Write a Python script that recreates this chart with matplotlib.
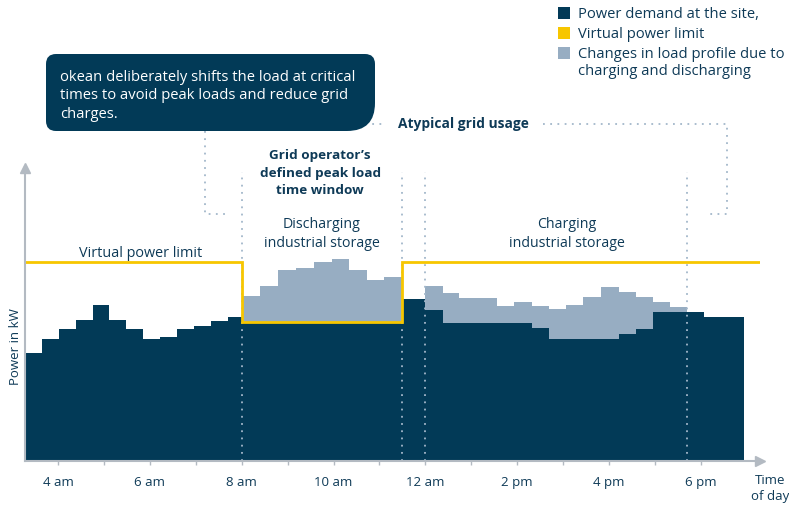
import matplotlib.pyplot as plt
import numpy as np
from matplotlib.path import Path
from matplotlib.patches import PathPatch, Rectangle

plt.rcParams["font.family"] = ["Open Sans", "DejaVu Sans"]

# step edges (hour of day) shared by both load series
edges = [3.28, 3.65, 4.02, 4.39, 4.76, 5.12, 5.48, 5.86, 6.22, 6.59, 6.96, 7.33, 7.70,
         8.0, 8.40, 8.80, 9.19, 9.58, 9.96, 10.34, 10.73, 11.11,
         11.5,
         12.0, 12.39, 12.74, 13.57, 13.94, 14.32, 14.70, 15.07, 15.44, 15.83, 16.21,
         16.58, 16.96, 17.33,
         17.70, 18.07, 18.94]

# power demand at the site (after shifting)
demand = [54, 61, 66, 70.5, 78, 70.5, 66, 61, 62, 66, 67.5, 70, 72,
          69.5, 69.5, 69.5, 69.5, 69.5, 69.5, 69.5, 69.5, 69.5,
          81,
          75.5, 69, 69, 69, 69, 66.5, 61, 61, 61, 61, 63.5, 66, 74.5, 74.5,
          74.5, 72]

# load profile including charging / discharging changes (0 = no change)
changed = [0, 0, 0, 0, 0, 0, 0, 0, 0, 0, 0, 0, 0,
           82.5, 87.5, 95.5, 96.5, 99.5, 101, 95.5, 90.5, 92,
           0,
           87.5, 84, 81.5, 77.5, 79.5, 77.5, 76, 78, 82, 87, 84.5, 82, 79.5, 77,
           0, 0]

# virtual power limit
limit_edges = [3.28, 8.0, 11.5, 19.29]
limit = [99.5, 69.5, 99.5]

# dotted markers (hours)
window_lines = [8.0, 11.5, 12.0, 17.70]

tick_hours = [4, 6, 8, 10, 12, 14, 16, 18]
tick_labels = ["4 am", "6 am", "8 am", "10 am", "12 am", "2 pm", "4 pm", "6 pm"]
minor_hours = [5, 7, 9, 11, 13, 15, 17]

navy = "#023a57"
light = "#97adc2"
yellow = "#f7c600"
txt = "#0e3a57"
grey = "#b3bac2"
dots = "#a3b7ca"

W, H = 789, 508
fig = plt.figure(figsize=(W / 100, H / 100), dpi=100)
ax = fig.add_axes([25 / W, (H - 461) / H, 735 / W, (461 - 168) / H])

ax.stairs(changed, edges, fill=True, color=light, baseline=0, zorder=2)
ax.stairs(demand, edges, fill=True, color=navy, baseline=0, zorder=3)
ax.stairs(limit, limit_edges, baseline=None, color=yellow, lw=2, zorder=5)

ax.vlines(window_lines, 0, 144.5, colors=dots, lw=1.3, linestyles=(0, (1, 3)),
          zorder=4, clip_on=False)

ax.set_xlim(3.28, 19.29)
ax.set_ylim(0, 146.5)
for s in ["top", "right"]:
    ax.spines[s].set_visible(False)
for s in ["left", "bottom"]:
    ax.spines[s].set_color(grey)
    ax.spines[s].set_linewidth(1.5)
    ax.spines[s].set_zorder(6)
ax.plot([19.29], [0], marker=">", ms=7.5, color=grey, clip_on=False, zorder=6)
ax.plot([3.28], [146.5], marker="^", ms=7.5, color=grey, clip_on=False, zorder=6)

ax.set_xticks(tick_hours)
ax.set_xticklabels(tick_labels)
ax.set_xticks(minor_hours, minor=True)
ax.set_yticks([])
ax.tick_params(axis="x", which="both", direction="inout", length=6, width=1,
               color=grey, labelcolor=txt, labelsize=9.5, pad=8)
ax.set_ylabel("Power in kW", fontsize=9.5, color=txt)
ax.yaxis.set_label_coords(-0.004, 0.389)
ax.text(19.5, -6.5, "Time\nof day", ha="center", va="top", fontsize=9.5,
        color=txt, linespacing=1.3, clip_on=False)

# chart annotations
ax.text(5.79, 104, "Virtual power limit", ha="center", va="center",
        fontsize=10.4, color=txt)
ax.text(9.75, 113.5, "Discharging\nindustrial storage", ha="center", va="center",
        fontsize=10.2, color=txt, linespacing=1.3)
ax.text(15.09, 113.5, "Charging\nindustrial storage", ha="center", va="center",
        fontsize=10.2, color=txt, linespacing=1.3)
ax.text(9.71, 144, "Grid operator\u2019s\ndefined peak load\ntime window",
        ha="center", va="center", fontsize=9.7, fontweight="bold", color=txt,
        linespacing=1.45)
ax.text(12.82, 168.5, "Atypical grid usage", ha="center", va="center",
        fontsize=9.9, fontweight="bold", color=txt)

# bracket for atypical grid usage
br = dict(color=dots, lw=1.3, ls=(0, (1, 3)), clip_on=False, zorder=4)
ax.plot([7.20, 7.20, 7.64], [165, 123.5, 123.5], **br)
ax.plot([10.69, 11.08], [168.5, 168.5], **br)
ax.plot([14.57, 18.575, 18.575, 18.14], [168.5, 168.5, 123.5, 123.5], **br)


# callout box (pixel coordinates converted to inches)
def rounded_box(x0, y0, x1, y1, r_tl, r_tr, r_br, r_bl):
    verts = [(x0 + r_bl, y0), (x1 - r_br, y0), (x1, y0), (x1, y0 + r_br),
             (x1, y1 - r_tr), (x1, y1), (x1 - r_tr, y1),
             (x0 + r_tl, y1), (x0, y1), (x0, y1 - r_tl),
             (x0, y0 + r_bl), (x0, y0), (x0 + r_bl, y0), (x0 + r_bl, y0)]
    codes = [Path.MOVETO, Path.LINETO, Path.CURVE3, Path.CURVE3,
             Path.LINETO, Path.CURVE3, Path.CURVE3,
             Path.LINETO, Path.CURVE3, Path.CURVE3,
             Path.LINETO, Path.CURVE3, Path.CURVE3, Path.CLOSEPOLY]
    return Path(verts, codes)


box = rounded_box(0.46, (H - 131) / 100, 3.75, (H - 54) / 100, 0.1, 0.1, 0.28, 0.1)
fig.patches.append(PathPatch(box, facecolor=navy, edgecolor="none",
                             transform=fig.dpi_scale_trans))
fig.text(60 / W, 1 - 70 / H,
         "okean deliberately shifts the load at critical\n"
         "times to avoid peak loads and reduce grid\ncharges.",
         ha="left", va="top", fontsize=10.6, color="white", linespacing=1.3)

# legend
legend_items = [(navy, "Power demand at the site,"),
                (yellow, "Virtual power limit"),
                (light, "Changes in load profile due to\ncharging and discharging")]
for i, (c, lab) in enumerate(legend_items):
    yc = 13 + 20 * i
    fig.patches.append(Rectangle((558 / W, 1 - (yc + 6) / H), 12 / W, 12 / H,
                                 facecolor=c, edgecolor="none",
                                 transform=fig.transFigure))
    fig.text(578 / W, 1 - (yc - 6.5) / H, lab, ha="left", va="top", fontsize=10.6,
             color=txt, linespacing=1.25)

plt.savefig("out.png", dpi=100)
plt.close(fig)
